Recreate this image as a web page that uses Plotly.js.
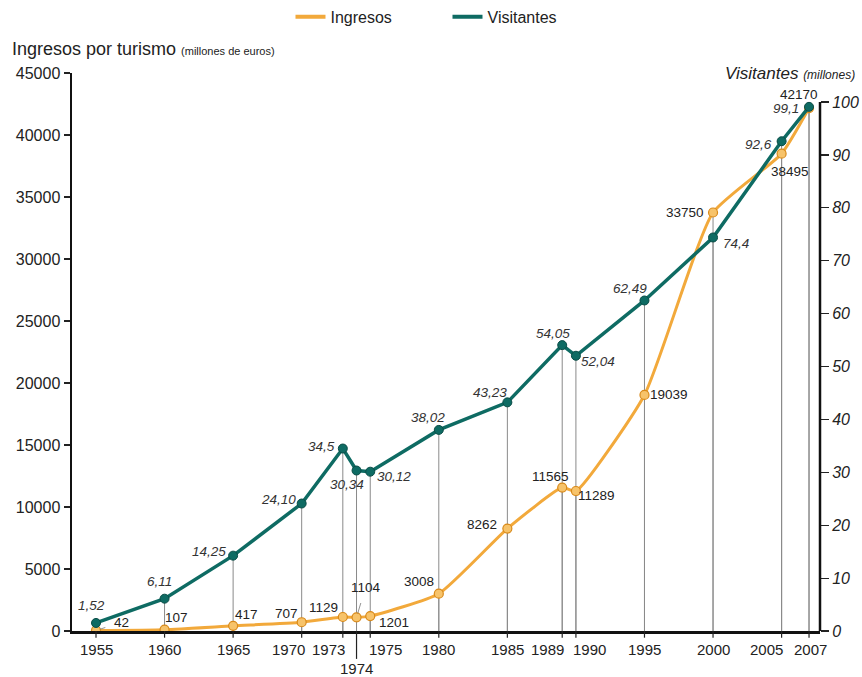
<!DOCTYPE html>
<html>
<head>
<meta charset="utf-8">
<script src="https://cdn.plot.ly/plotly-3.0.1.min.js"></script>
<style>html,body{margin:0;padding:0;background:#fff;}#chart{width:862px;height:677px;}</style>
</head>
<body>
<div id="chart"></div>
<script>
// ---- data ----
const years = [1955, 1960, 1965, 1970, 1973, 1974, 1975, 1980, 1985, 1989, 1990, 1995, 2000, 2005, 2007];
const ingresos = [42, 107, 417, 707, 1129, 1104, 1201, 3008, 8262, 11565, 11289, 19039, 33750, 38495, 42170];
const visitantes = [1.52, 6.11, 14.25, 24.10, 34.5, 30.34, 30.12, 38.02, 43.23, 54.05, 52.04, 62.49, 74.4, 92.6, 99.1];
const visitantesLabels = ['1,52', '6,11', '14,25', '24,10', '34,5', '30,34', '30,12', '38,02', '43,23', '54,05', '52,04', '62,49', '74,4', '92,6', '99,1'];
const ingresosLabels = ['42', '107', '417', '707', '1129', '1104', '1201', '3008', '8262', '11565', '11289', '19039', '33750', '38495', '42170'];
const leftTicks = [0, 5000, 10000, 15000, 20000, 25000, 30000, 35000, 40000, 45000];
const rightTicks = [0, 10, 20, 30, 40, 50, 60, 70, 80, 90, 100];
const xTickYears = [1955, 1960, 1965, 1970, 1973, 1974, 1975, 1980, 1985, 1989, 1990, 1995, 2000, 2005, 2007];

// ---- label placement (pixel offsets, style only) ----
const visDx = [-5, -5, -24, -23, -21, -10, 24, -11, -17, -9, 22, -14, 23, -23, -23];
const visDy = [-17, -17, -4, -4, -2, 14, 5, -12, -10, -12, 6, -12, 6, 3, 2];
const ingDx = [25, 12, 13, -15, -19, 9, 24, -20, -25, -12, 21, 25, -28, 8, -10];
const ingDy = [-8, -12, -11, -9, -10, -30, 6, -12, -4, -11, 4, 0, 0, 18, -14];
const xLabDx = [0, 0, 0, -13, -14, 0, 15, 0, 0, -15, 14, 0, 0, -15, 1];
const xLabDy = [0, 0, 0, 0, 0, 19, 0, 0, 0, 0, 0, 0, 0, 0, 0];

const ORANGE = '#F2A93B';
const TEAL = '#0E6B63';
const FONT = 'Liberation Sans, Arial, sans-serif';

const traces = [
  {
    x: years, y: ingresos, name: 'Ingresos', type: 'scatter', mode: 'lines+markers', showlegend: false,
    line: {color: ORANGE, width: 3, shape: 'spline', smoothing: 0.5},
    marker: {symbol: 'circle', size: 9, color: '#F7C36A', line: {color: '#D98A1A', width: 1.2}},
    yaxis: 'y'
  },
  {
    x: years, y: visitantes, name: 'Visitantes', type: 'scatter', mode: 'lines+markers', showlegend: false,
    line: {color: TEAL, width: 3.5},
    marker: {symbol: 'circle', size: 9, color: TEAL, line: {color: '#0A4C46', width: 1}},
    yaxis: 'y2'
  },
  {x: [null], y: [null], name: 'Ingresos', type: 'scatter', mode: 'lines', line: {color: ORANGE, width: 4}},
  {x: [null], y: [null], name: 'Visitantes', type: 'scatter', mode: 'lines', line: {color: TEAL, width: 4}}
];

const shapes = [];
years.forEach((yr, i) => {
  shapes.push({type: 'line', xref: 'x', yref: 'y2', x0: yr, x1: yr, y0: 0, y1: visitantes[i],
    line: {color: '#8a8a8a', width: 1}, layer: 'below'});
  shapes.push({type: 'line', xref: 'x', yref: 'y', x0: yr, x1: yr, y0: 0, y1: ingresos[i],
    line: {color: '#8a8a8a', width: 1}, layer: 'below'});
  // tick marks (longer one where the label sits lower)
  shapes.push({type: 'line', xref: 'x', yref: 'paper', x0: yr, x1: yr, y0: 0, y1: xLabDy[i] ? -0.05 : -0.012,
    line: {color: '#222', width: 1.2}});
});
// right axis line only spanning 0..100
shapes.push({type: 'line', xref: 'paper', yref: 'y2', x0: 1, x1: 1, y0: 0, y1: rightTicks[rightTicks.length - 1],
  line: {color: '#111', width: 2.5}});

const annotations = [];
years.forEach((yr, i) => {
  annotations.push({x: yr, y: visitantes[i], yref: 'y2', xref: 'x', text: '<i>' + visitantesLabels[i] + '</i>',
    showarrow: false, xshift: visDx[i], yshift: -visDy[i],
    font: {family: FONT, size: 13.5, color: '#333'}});
  const isLeader = (i === 0 || i === 5);
  if (isLeader) {
    annotations.push({x: yr, y: ingresos[i], yref: 'y', xref: 'x', text: ingresosLabels[i],
      showarrow: true, ax: ingDx[i], ay: ingDy[i], arrowhead: 0, arrowwidth: 0.8, arrowcolor: '#777',
      standoff: 4, startstandoff: 7, font: {family: FONT, size: 13.5, color: '#222'}});
  } else {
    annotations.push({x: yr, y: ingresos[i], yref: 'y', xref: 'x', text: ingresosLabels[i],
      showarrow: false, xshift: ingDx[i], yshift: -ingDy[i],
      font: {family: FONT, size: 13.5, color: '#222'}});
  }
});
xTickYears.forEach((yr, i) => {
  annotations.push({x: yr, y: 0, xref: 'x', yref: 'paper', text: String(yr), showarrow: false,
    yanchor: 'top', xshift: xLabDx[i], yshift: -8 - xLabDy[i],
    font: {family: FONT, size: 15, color: '#222'}});
});
annotations.push({x: -0.083, y: 1.043, xref: 'paper', yref: 'paper', xanchor: 'left', yanchor: 'middle',
  text: 'Ingresos por turismo <span style="font-size:11px">(millones de euros)</span>',
  showarrow: false, font: {family: FONT, size: 18, color: '#222'}});
annotations.push({x: 1.05, y: 1.0, xref: 'paper', yref: 'paper', xanchor: 'right', yanchor: 'middle',
  text: '<i>Visitantes <span style="font-size:12px">(millones)</span></i>',
  showarrow: false, font: {family: FONT, size: 17, color: '#222'}});

const layout = {
  width: 862, height: 677,
  margin: {l: 72, r: 42, t: 73, b: 46, pad: 0, autoexpand: false},
  paper_bgcolor: '#fff', plot_bgcolor: '#fff',
  font: {family: FONT, color: '#222'},
  showlegend: true,
  legend: {orientation: 'h', xref: 'container', yref: 'container', x: 0.337, y: 0.975, xanchor: 'left', yanchor: 'middle',
    font: {family: FONT, size: 16, color: '#222'}, entrywidth: 112, entrywidthmode: 'pixels',
    bgcolor: 'rgba(0,0,0,0)'},
  xaxis: {
    range: [1953.25, 2007.8], tickvals: xTickYears, showticklabels: false, automargin: false,
    showgrid: false, zeroline: false, showline: true, linecolor: '#111', linewidth: 2.5,
    ticks: ''
  },
  yaxis: {
    range: [0, 45000], tickvals: leftTicks, tickformat: 'd', automargin: false,
    showgrid: false, zeroline: false, showline: true, linecolor: '#111', linewidth: 2.5,
    ticks: 'outside', ticklen: 6, tickcolor: '#222', tickwidth: 1.2,
    tickfont: {family: FONT, size: 16, color: '#222'}
  },
  yaxis2: {
    range: [0, 105.5], tickvals: rightTicks, overlaying: 'y', side: 'right', automargin: false,
    showgrid: false, zeroline: false, showline: false,
    ticks: 'outside', ticklen: 8, tickcolor: '#222', tickwidth: 1.2,
    tickfont: {family: FONT, size: 16, color: '#222', style: 'italic'}
  },
  shapes: shapes,
  annotations: annotations
};

Plotly.newPlot('chart', traces, layout, {displayModeBar: false, staticPlot: true});
</script>
</body>
</html>
